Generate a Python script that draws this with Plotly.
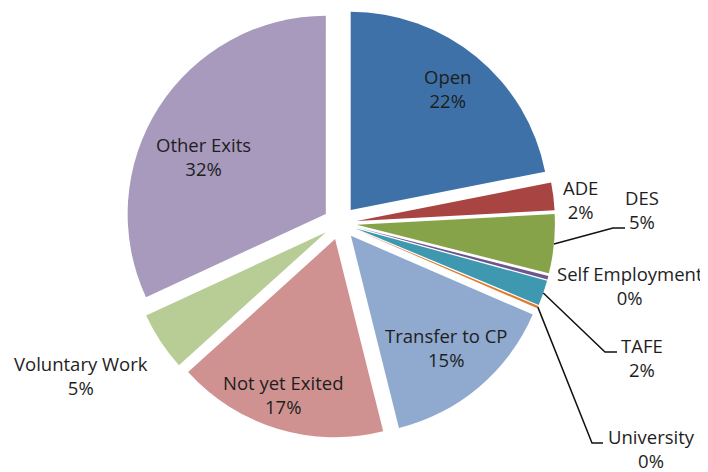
import math
import plotly.graph_objects as go

# ---- data ----
labels = ["Open", "ADE", "DES", "Self Employment", "TAFE", "University",
          "Transfer to CP", "Not yet Exited", "Voluntary Work", "Other Exits"]
values = [21.9, 2.25, 4.8, 0.3, 2.05, 0.2, 14.6, 17.2, 4.8, 31.9]

# ---- style ----
colors = ["#3D71A8", "#A84442", "#87A34A", "#6E558F", "#3E98B0", "#E07B2C",
          "#8FA9CF", "#D09290", "#B8CD96", "#A89ABD"]
PULL = 0.085
OFF = 8                            # page body margin (px)
W, H = 700, 464                    # figure size
CX, CY = 340.0, 223.0              # pie centre (screen px)
R_OUT = 215.0                      # radius incl. pull (px)

# label block centres (screen px) and leader-line elbows (screen px)
label_pos = {
    "Open": (447, 89), "ADE": (580, 200), "DES": (642, 210),
    "Self Employment": (630, 285), "TAFE": (642, 357), "University": (651, 448),
    "Transfer to CP": (446, 347), "Not yet Exited": (283, 394),
    "Voluntary Work": (81, 375), "Other Exits": (203, 156),
}
leaders = {
    "DES": [(613, 228), (625, 228)],
    "TAFE": [(605, 352), (617, 352)],
    "University": [(592, 443), (603, 443)],
}


def px(x, y):
    return (x - OFF) / W, 1 - (y - OFF) / H


cxp, cyp = px(CX, CY)
hy = R_OUT / H
fig = go.Figure(go.Pie(
    labels=labels, values=values, sort=False, direction="clockwise", rotation=0,
    marker=dict(colors=colors, line=dict(width=0)),
    pull=[PULL] * len(labels),
    textinfo="none", showlegend=False, hoverinfo="label+percent",
    domain=dict(x=[0, 2 * cxp], y=[max(0, cyp - hy), min(1, cyp + hy)]),
))

total = sum(values)
cum = 0.0
for lab, v in zip(labels, values):
    mid = (cum + v / 2) / total * 2 * math.pi
    cum += v
    pct = round(v / total * 100)
    tx, ty = px(*label_pos[lab])
    fig.add_annotation(x=tx, y=ty, xref="paper", yref="paper", showarrow=False,
                       text=f"{lab}<br>{pct}%", xanchor="center", yanchor="middle",
                       font=dict(family="Open Sans", size=18.5, color="#1E1E1E"))
    if lab in leaders:
        sx, sy = CX + R_OUT * math.sin(mid), CY - R_OUT * math.cos(mid)
        pts = [(sx, sy)] + leaders[lab]
        path = "M " + " L ".join(f"{px(a, b)[0]:.5f},{px(a, b)[1]:.5f}" for a, b in pts)
        fig.add_shape(type="path", path=path, xref="paper", yref="paper",
                      line=dict(color="#111111", width=1.5))

fig.update_layout(width=W, height=H, margin=dict(l=0, r=0, t=0, b=0),
                  paper_bgcolor="white", plot_bgcolor="white")
fig.write_html("out.html")
